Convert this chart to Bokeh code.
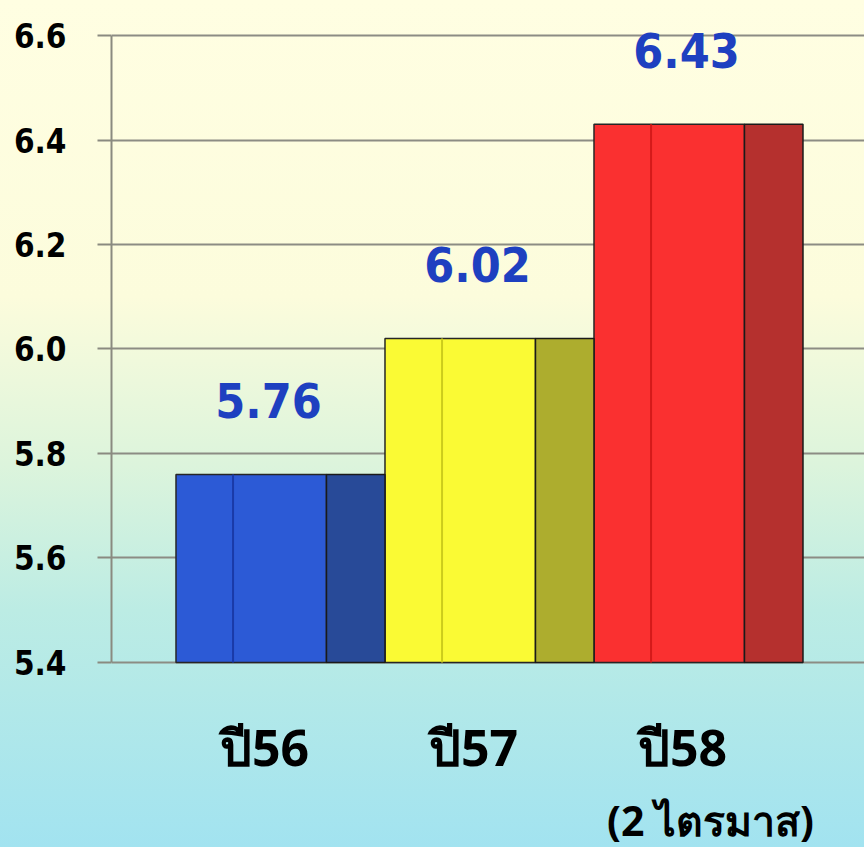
from bokeh.plotting import figure
from bokeh.models import ColumnDataSource, FixedTicker, Range1d, PrintfTickFormatter
from bokeh.core.properties import value
from bokeh.embed import file_html
from bokeh.resources import INLINE

# ---- data ----
categories = ["ปี56", "ปี57", "ปี58"]
sublabels = ["", "", "(2 ไตรมาส)"]
values = [5.76, 6.02, 6.43]
value_labels = ["5.76", "6.02", "6.43"]
front_colors = ["#2c5ad6", "#fafa34", "#fa3030"]
side_colors = ["#284a98", "#adad2e", "#b5302e"]
inner_colors = ["#1a3aa8", "#cccc1c", "#d41a1a"]
y_ticks = [5.4, 5.6, 5.8, 6.0, 6.2, 6.4, 6.6]
base = 5.4

xs = list(range(len(categories)))

W, H = 864, 847
p = figure(width=W, height=H, output_backend="svg", toolbar_location=None,
           x_range=Range1d(-0.8086, 2.7943), y_range=Range1d(5.0459, 6.667),
           min_border_left=111, min_border_right=0, min_border_top=0, min_border_bottom=0)
p.styles = {"background-image": "linear-gradient(to bottom, #fffee2 0%, #fcfcdc 35%, #dcf4dc 55%, #bcece4 72%, #a2e3f0 100%)"}
p.background_fill_color = None
p.border_fill_color = None
p.outline_line_color = None
p.xaxis.visible = False
p.xgrid.visible = False

p.yaxis.ticker = FixedTicker(ticks=y_ticks)
p.yaxis.bounds = (5.4, 6.6)
p.yaxis.axis_line_color = "#8a8a80"
p.yaxis.axis_line_width = 2
p.yaxis.major_tick_line_color = "#8a8a80"
p.yaxis.major_tick_line_width = 2
p.yaxis.major_tick_out = 14
p.yaxis.major_tick_in = 0
p.yaxis.minor_tick_line_color = None
p.yaxis.major_label_standoff = 31
p.yaxis.major_label_text_font = "DejaVu Sans Condensed"
p.yaxis.major_label_text_font_style = "bold"
p.yaxis.major_label_text_font_size = "33px"
p.yaxis.major_label_text_color = "#000000"
p.yaxis.formatter = PrintfTickFormatter(format="%.1f")

p.ygrid.ticker = FixedTicker(ticks=y_ticks)
p.ygrid.grid_line_color = "#8c8c84"
p.ygrid.grid_line_width = 2

src = ColumnDataSource(dict(
    x=xs, top=values, base=[base] * 3,
    fl=[x - 0.5 for x in xs], fr=[x + 0.22 for x in xs],
    sl=[x + 0.22 for x in xs], sr=[x + 0.5 for x in xs],
    il=[x - 0.227 for x in xs],
    front=front_colors, side=side_colors, inner=inner_colors,
    lab=value_labels, cat=categories, sub=sublabels,
))

p.quad(left="fl", right="fr", bottom="base", top="top", source=src,
       fill_color="front", line_color="#262626", line_width=1.5)
p.quad(left="sl", right="sr", bottom="base", top="top", source=src,
       fill_color="side", line_color="#1a1a1a", line_width=1.5)
p.segment(x0="il", x1="il", y0="base", y1="top", source=src,
          line_color="inner", line_width=2)

p.text(x="x", y="top", text="lab", source=src, x_offset=-12, y_offset=-74,
       text_align="center", text_baseline="alphabetic", text_font_style="bold",
       text_font=value("DejaVu Sans Condensed"), text_font_size="48px", text_color="#1e40c0")

p.text(x="x", y="base", text="cat", source=src, x_offset=-16, y_offset=85,
       text_align="center", text_baseline="alphabetic", text_font_style="bold",
       text_font=value("Noto Sans"), text_font_size="50px", text_color="#000000")
p.text(x="x", y="base", text="sub", source=src, x_offset=12, y_offset=158,
       text_align="center", text_baseline="alphabetic", text_font_style="bold",
       text_font=value("Noto Sans"), text_font_size="41px", text_color="#000000")

open("out.html", "w").write(file_html(p, INLINE))
